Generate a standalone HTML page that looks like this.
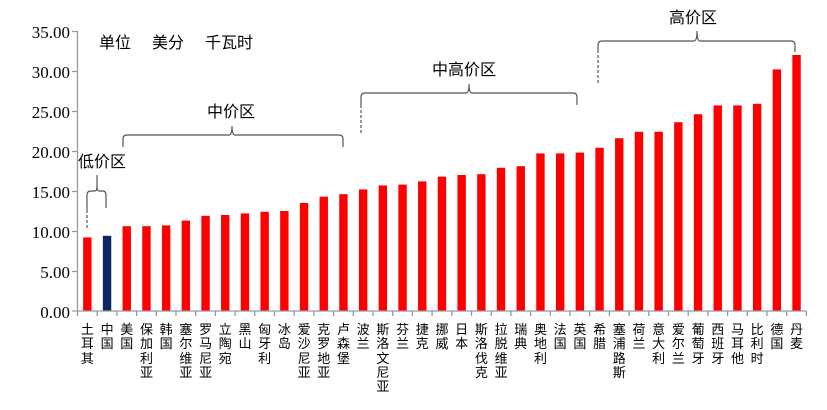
<!DOCTYPE html>
<html><head><meta charset="utf-8"><style>
body{margin:0;background:#fff;position:relative;width:827px;height:410px;overflow:hidden;}
svg{display:block;position:absolute;left:0;top:0;font-family:"Liberation Sans","WenQuanYi Zen Hei","Noto Sans CJK SC",sans-serif;}
.l{position:absolute;top:322px;width:14px;text-align:center;white-space:nowrap;font-family:"WenQuanYi Zen Hei","Noto Sans CJK SC",sans-serif;font-size:13px;line-height:14.3px;color:#000;}
</style></head><body>
<svg width="827" height="410" viewBox="0 0 827 410" xmlns="http://www.w3.org/2000/svg">
<g font-family="Liberation Serif,serif" font-size="17" fill="#000" text-anchor="end">
<text x="70" y="38">35.00</text><text x="70" y="78">30.00</text><text x="70" y="118">25.00</text>
<text x="70" y="158">20.00</text><text x="70" y="198">15.00</text><text x="70" y="238">10.00</text>
<text x="70" y="278">5.00</text><text x="70" y="318">0.00</text>
</g>
<g fill="#ff0000">
<rect x="83.15" y="237.4" width="8.4" height="73.6"/>
<rect x="102.85" y="235.8" width="8.4" height="75.2" fill="#0d2561"/>
<rect x="122.55" y="226.2" width="8.4" height="84.8"/>
<rect x="142.25" y="226.2" width="8.4" height="84.8"/>
<rect x="161.95" y="225.4" width="8.4" height="85.6"/>
<rect x="181.65" y="220.6" width="8.4" height="90.4"/>
<rect x="201.35" y="215.8" width="8.4" height="95.2"/>
<rect x="221.05" y="215" width="8.4" height="96"/>
<rect x="240.75" y="213.4" width="8.4" height="97.6"/>
<rect x="260.45" y="211.8" width="8.4" height="99.2"/>
<rect x="280.15" y="211" width="8.4" height="100"/>
<rect x="299.85" y="203" width="8.4" height="108"/>
<rect x="319.55" y="196.6" width="8.4" height="114.4"/>
<rect x="339.25" y="194.2" width="8.4" height="116.8"/>
<rect x="358.95" y="189.4" width="8.4" height="121.6"/>
<rect x="378.65" y="185.4" width="8.4" height="125.6"/>
<rect x="398.35" y="184.6" width="8.4" height="126.4"/>
<rect x="418.05" y="181.4" width="8.4" height="129.6"/>
<rect x="437.75" y="176.6" width="8.4" height="134.4"/>
<rect x="457.45" y="175" width="8.4" height="136"/>
<rect x="477.15" y="174.2" width="8.4" height="136.8"/>
<rect x="496.85" y="167.8" width="8.4" height="143.2"/>
<rect x="516.55" y="166.2" width="8.4" height="144.8"/>
<rect x="536.25" y="153.4" width="8.4" height="157.6"/>
<rect x="555.95" y="153.4" width="8.4" height="157.6"/>
<rect x="575.65" y="152.6" width="8.4" height="158.4"/>
<rect x="595.35" y="147.8" width="8.4" height="163.2"/>
<rect x="615.05" y="138.2" width="8.4" height="172.8"/>
<rect x="634.75" y="131.8" width="8.4" height="179.2"/>
<rect x="654.45" y="131.8" width="8.4" height="179.2"/>
<rect x="674.15" y="122.2" width="8.4" height="188.8"/>
<rect x="693.85" y="114.2" width="8.4" height="196.8"/>
<rect x="713.55" y="105.4" width="8.4" height="205.6"/>
<rect x="733.25" y="105.4" width="8.4" height="205.6"/>
<rect x="752.95" y="103.8" width="8.4" height="207.2"/>
<rect x="772.65" y="69.4" width="8.4" height="241.6"/>
<rect x="792.35" y="55" width="8.4" height="256"/>
</g>
<g stroke="#999" stroke-width="1.3" fill="none">
<line x1="77.5" y1="31" x2="77.5" y2="311"/>
<line x1="77.5" y1="311" x2="806.4" y2="311"/>
<path d="M72 31.5H77.5M72 71.5H77.5M72 111.5H77.5M72 151.5H77.5M72 191.5H77.5M72 231.5H77.5M72 271.5H77.5M72 311H77.5"/>
<path d="M77.5 311v5M97.2 311v5M116.9 311v5M136.6 311v5M156.3 311v5M176 311v5M195.7 311v5M215.4 311v5M235.1 311v5M254.8 311v5M274.5 311v5M294.2 311v5M313.9 311v5M333.6 311v5M353.3 311v5M373 311v5M392.7 311v5M412.4 311v5M432.1 311v5M451.8 311v5M471.5 311v5M491.2 311v5M510.9 311v5M530.6 311v5M550.3 311v5M570 311v5M589.7 311v5M609.4 311v5M629.1 311v5M648.8 311v5M668.5 311v5M688.2 311v5M707.9 311v5M727.6 311v5M747.3 311v5M767 311v5M786.7 311v5M806.4 311v5"/>
</g>
<g font-size="16" fill="#000">
<text x="99" y="48">单位</text><text x="152" y="48">美分</text><text x="205" y="48">千瓦时</text>
<text x="78" y="167">低价区</text>
<text x="207" y="117">中价区</text>
<text x="432" y="75">中高价区</text>
<text x="669" y="23">高价区</text>
</g>
<g fill="none" stroke="#555" stroke-width="1.2">
<path d="M87 210 V195 Q87 191 91 191 H95 Q97 191 97 186 V175 M97 186 Q97 191 99 191 H103 Q106 191 106 195 V208"/>
<path d="M123 147 V139 Q123 135 127 135 H229 Q232 135 232 126 Q232 135 235 135 H339 Q343 135 343 139 V147"/>
<path d="M361 105 V97 Q361 93 365 93 H466 Q469 93 469 84 Q469 93 472 93 H573 Q577 93 577 97 V105"/>
<path d="M598 50 V45 Q598 41 602 41 H694 Q697 41 697 31 Q697 41 700 41 H791 Q795 41 795 45 V52"/>
</g>
<g fill="none" stroke="#555" stroke-width="1.2" stroke-dasharray="3,2">
<line x1="87" y1="210" x2="87" y2="228"/>
<line x1="361" y1="105" x2="361" y2="135"/>
<line x1="598" y1="50" x2="598" y2="84"/>
</g>
</svg>
<div class="l" style="left:80.4px">土<br>耳<br>其</div>
<div class="l" style="left:100.1px">中<br>国</div>
<div class="l" style="left:119.8px">美<br>国</div>
<div class="l" style="left:139.5px">保<br>加<br>利<br>亚</div>
<div class="l" style="left:159.2px">韩<br>国</div>
<div class="l" style="left:178.9px">塞<br>尔<br>维<br>亚</div>
<div class="l" style="left:198.6px">罗<br>马<br>尼<br>亚</div>
<div class="l" style="left:218.3px">立<br>陶<br>宛</div>
<div class="l" style="left:238px">黑<br>山</div>
<div class="l" style="left:257.7px">匈<br>牙<br>利</div>
<div class="l" style="left:277.4px">冰<br>岛</div>
<div class="l" style="left:297.1px">爱<br>沙<br>尼<br>亚</div>
<div class="l" style="left:316.8px">克<br>罗<br>地<br>亚</div>
<div class="l" style="left:336.5px">卢<br>森<br>堡</div>
<div class="l" style="left:356.2px">波<br>兰</div>
<div class="l" style="left:375.9px">斯<br>洛<br>文<br>尼<br>亚</div>
<div class="l" style="left:395.6px">芬<br>兰</div>
<div class="l" style="left:415.3px">捷<br>克</div>
<div class="l" style="left:435px">挪<br>威</div>
<div class="l" style="left:454.7px">日<br>本</div>
<div class="l" style="left:474.4px">斯<br>洛<br>伐<br>克</div>
<div class="l" style="left:494.1px">拉<br>脱<br>维<br>亚</div>
<div class="l" style="left:513.8px">瑞<br>典</div>
<div class="l" style="left:533.5px">奥<br>地<br>利</div>
<div class="l" style="left:553.2px">法<br>国</div>
<div class="l" style="left:572.9px">英<br>国</div>
<div class="l" style="left:592.6px">希<br>腊</div>
<div class="l" style="left:612.3px">塞<br>浦<br>路<br>斯</div>
<div class="l" style="left:632px">荷<br>兰</div>
<div class="l" style="left:651.7px">意<br>大<br>利</div>
<div class="l" style="left:671.4px">爱<br>尔<br>兰</div>
<div class="l" style="left:691.1px">葡<br>萄<br>牙</div>
<div class="l" style="left:710.8px">西<br>班<br>牙</div>
<div class="l" style="left:730.5px">马<br>耳<br>他</div>
<div class="l" style="left:750.2px">比<br>利<br>时</div>
<div class="l" style="left:769.9px">德<br>国</div>
<div class="l" style="left:789.6px">丹<br>麦</div>
</body></html>
